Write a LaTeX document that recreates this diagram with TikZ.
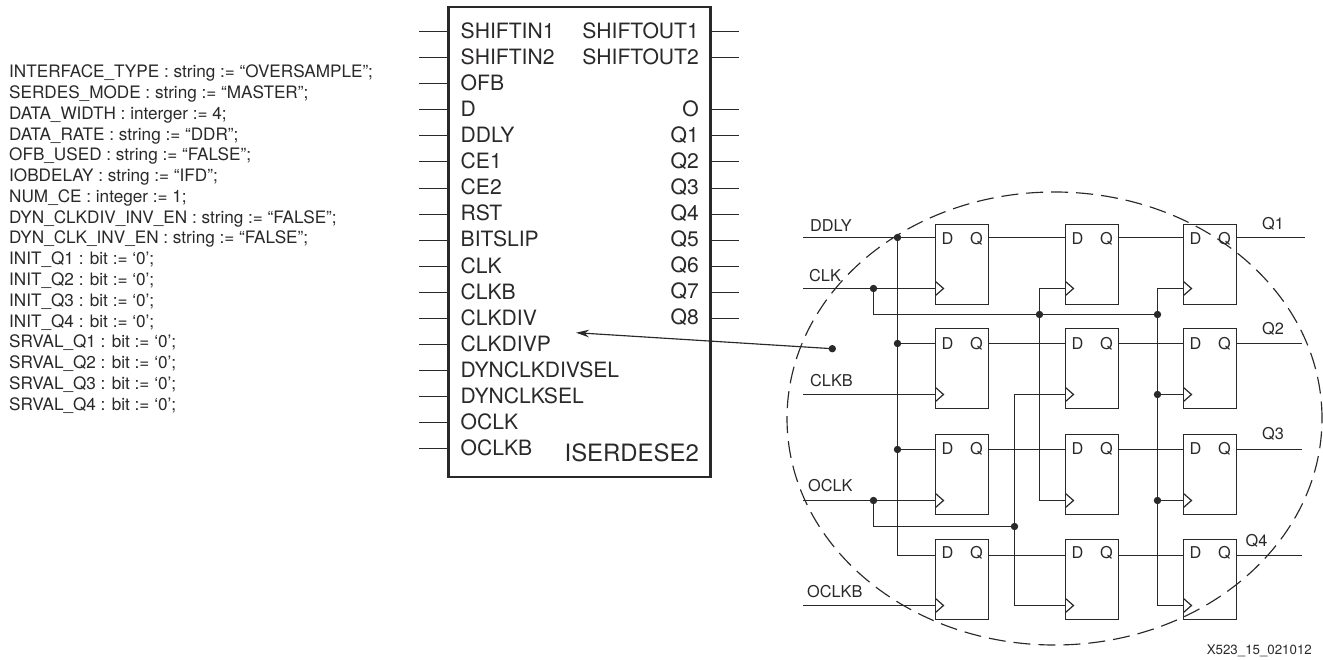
\documentclass[tikz,border=0pt]{standalone}
\usepackage{fontspec}
\setmainfont{TeX Gyre Heros}
\usetikzlibrary{arrows.meta,calc,positioning}
\definecolor{inkdark}{HTML}{2B2829}

\tikzset{
  wire/.style={draw=inkdark, line width=1.2pt},
  pinline/.style={draw=inkdark, line width=1.2pt},
  pinlabel/.style={font=\fontsize{21.1}{24}\selectfont, text=inkdark, inner sep=0pt},
  sigfont/.style={font=\fontsize{16.3}{19}\selectfont, text=inkdark, inner sep=0pt},
  ffbox/.style={draw=inkdark, line width=1.2pt, minimum width=53pt, minimum height=80pt, inner sep=0pt, outer sep=0pt, anchor=north west},
  jdot/.style={circle, fill=inkdark, minimum size=7.4pt, inner sep=0pt}
}

\begin{document}
\begin{tikzpicture}[x=1pt,y=-1pt,>=stealth]
  \useasboundingbox (0,0) rectangle (1323,660);

  % Attribute list
  \node[anchor=north west, align=left, inner sep=0pt, text=inkdark, font=\fontsize{17.15}{20.77}\selectfont] (attrs) at (9,64.8) {
    INTERFACE\_TYPE : string := “OVERSAMPLE”;\\
    SERDES\_MODE : string := “MASTER”;\\
    DATA\_WIDTH : interger := 4;\\
    DATA\_RATE : string := “DDR”;\\
    OFB\_USED : string := “FALSE”;\\
    IOBDELAY : string := “IFD”;\\
    NUM\_CE : integer := 1;\\
    DYN\_CLKDIV\_INV\_EN : string := “FALSE”;\\
    DYN\_CLK\_INV\_EN : string := “FALSE”;\\
    INIT\_Q1 : bit := ‘0’;\\
    INIT\_Q2 : bit := ‘0’;\\
    INIT\_Q3 : bit := ‘0’;\\
    INIT\_Q4 : bit := ‘0’;\\
    SRVAL\_Q1 : bit := ‘0’;\\
    SRVAL\_Q2 : bit := ‘0’;\\
    SRVAL\_Q3 : bit := ‘0’;\\
    SRVAL\_Q4 : bit := ‘0’;
  };

  % Primitive box
  \node[draw=inkdark, line width=2.4pt, minimum width=262pt, minimum height=469.5pt, inner sep=0pt, outer sep=0pt] (prim) at (579.6,242) {};
  \node[anchor=east, inner sep=0pt, text=inkdark, font=\fontsize{23.9}{27}\selectfont] (primname) at (699,453) {ISERDESE2};

  % Left pins
  \foreach \lab [count=\i from 0] in {SHIFTIN1,SHIFTIN2,OFB,D,DDLY,CE1,CE2,RST,BITSLIP,CLK,CLKB,CLKDIV,CLKDIVP,DYNCLKDIVSEL,DYNCLKSEL,OCLK,OCLKB} {
    \node[pinlabel, anchor=west] (pinin\i) at (460.5,{30.8+26.06*\i}) {\lab};
    \coordinate (pinstart\i) at (419,{floor(31.7+26.06*\i)+0.5});
    \draw[pinline] (pinstart\i) -- (pinstart\i -| prim.west);
  }

  % Right pins
  \foreach \row/\lab in {0/SHIFTOUT1,1/SHIFTOUT2,3/O,4/Q1,5/Q2,6/Q3,7/Q4,8/Q5,9/Q6,10/Q7,11/Q8} {
    \node[pinlabel, anchor=east] (pinout\row) at (699,{30.8+26.06*\row}) {\lab};
    \coordinate (pinend\row) at (739,{floor(31.7+26.06*\row)+0.5});
    \draw[pinline] (pinend\row -| prim.east) -- (pinend\row);
  }

  % Flip-flops
  \foreach \c/\x in {1/935.5,2/1065.5,3/1183.5} {
    \foreach \r/\y/\dy/\ky/\ty in {1/224.5/237.5/288.5/238.5,2/328.5/343.5/394.5/343.5,3/434.5/449.5/500.5/448.5,4/539.5/555.5/605.5/552.5} {
      \node[ffbox] (ff\c\r) at (\x,\y) {};
      \node[sigfont, anchor=west] (ffd\c\r) at ({\x+6},\ty) {D};
      \node[sigfont, anchor=east] (ffq\c\r) at ({\x+47.5},\ty) {Q};
      \coordinate (d\c\r) at (\x,\dy);
      \coordinate (q\c\r) at ({\x+53},\dy);
      \coordinate (ck\c\r) at (\x,\ky);
      \draw[wire] (ck\c\r) ++(0,-7) -- ++(8,7) -- ++(-8,7);
    }
  }

  % Input labels
  \coordinate (ddlyin) at (803,237.5);
  \coordinate (clkin) at (803,288.5);
  \coordinate (clkbin) at (803,394.5);
  \coordinate (oclkin) at (803,500.5);
  \coordinate (oclkbin) at (803,605.5);
  \node[sigfont, anchor=west] (ddlylab) at (810,226) {DDLY};
  \node[sigfont, anchor=west] (clklab) at (809,276) {CLK};
  \node[sigfont, anchor=west] (clkblab) at (810,381) {CLKB};
  \node[sigfont, anchor=west] (oclklab) at (808,486) {OCLK};
  \node[sigfont, anchor=west] (oclkblab) at (807,592) {OCLKB};

  % Data inputs
  \node[jdot] (jd1) at (897.5,237.5) {};
  \node[jdot] (jd2) at (897.5,343.5) {};
  \node[jdot] (jd3) at (897.5,449.5) {};
  \draw[wire] (ddlyin) -- (d11);
  \draw[wire] (jd1.center) |- (d14);
  \draw[wire] (jd2.center) -- (d12);
  \draw[wire] (jd3.center) -- (d13);

  % Row to row data
  \foreach \r in {1,2,3,4} {
    \draw[wire] (q1\r) -- (d2\r);
    \draw[wire] (q2\r) -- (d3\r);
  }
  \coordinate (qend1) at (1305,237.5);
  \coordinate (qend2) at (1301.7,343.5);
  \coordinate (qend3) at (1301.7,449.5);
  \coordinate (qend4) at (1301.7,555.5);
  \foreach \r in {1,2,3,4} {
    \draw[wire] (q3\r) -- (qend\r);
  }
  \node[sigfont, anchor=west] (qlab1) at (1262,224) {Q1};
  \node[sigfont, anchor=west] (qlab2) at (1262,329) {Q2};
  \node[sigfont, anchor=west] (qlab3) at (1262,434) {Q3};
  \node[sigfont, anchor=west] (qlab4) at (1245.5,541) {Q4};

  % Clock network
  \node[jdot] (jclk) at (873.5,288.5) {};
  \node[jdot] (jclka) at (1039.5,314.5) {};
  \node[jdot] (jclkb) at (1157.5,314.5) {};
  \node[jdot] (jclkc) at (1157.5,394.5) {};
  \node[jdot] (jclkd) at (1157.5,500.5) {};
  \draw[wire] (clkin) -- (ck11);
  \draw[wire] (jclk.center) |- (jclkb.center);
  \draw[wire] (ck21) -| (jclka.center) |- (ck23);
  \draw[wire] (ck31) -| (jclkb.center) |- (ck34);
  \draw[wire] (jclkc.center) -- (ck32);
  \draw[wire] (jclkd.center) -- (ck33);

  % Second clock network
  \node[jdot] (joclk) at (873.5,500.5) {};
  \node[jdot] (joclka) at (1014.5,526.5) {};
  \draw[wire] (clkbin) -- (ck12);
  \draw[wire] (oclkin) -- (ck13);
  \draw[wire] (oclkbin) -- (ck14);
  \draw[wire] (joclk.center) |- (joclka.center);
  \draw[wire] (ck22) -| (joclka.center) |- (ck24);

  % Zoom ring and pointer
  \draw[draw=inkdark, line width=1.15pt, dash pattern=on 17pt off 8pt] (1054.5,418.5) ellipse (267.5pt and 226.5pt);
  \node[jdot] (ringdot) at (832.3,348.7) {};
  \coordinate (pointtip) at (576,332.7);
  \draw[-{Stealth[length=13pt,width=7.5pt]}, draw=inkdark, fill=inkdark, line width=1.15pt] (ringdot.center) -- (pointtip);

  % Figure number
  \node[anchor=east, inner sep=0pt, text=inkdark, font=\fontsize{13.3}{16}\selectfont] (figno) at (1312,651) {X523\_15\_021012};
\end{tikzpicture}
\end{document}
